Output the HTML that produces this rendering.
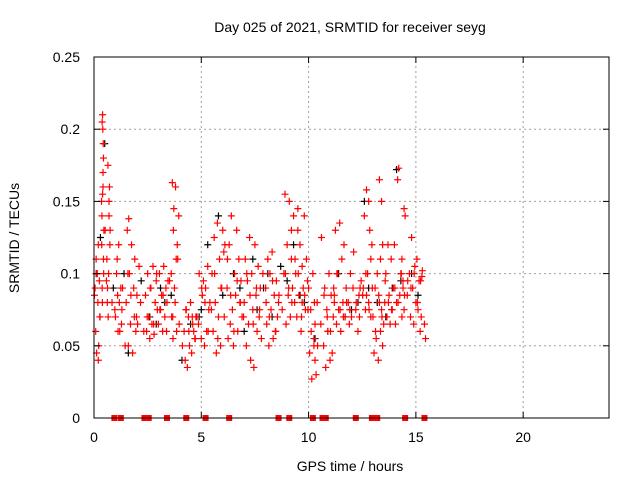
<!DOCTYPE html>
<html><head><meta charset="utf-8"><style>
body{margin:0;background:#fff;font-family:"Liberation Sans",sans-serif;}
svg text{font-family:"Liberation Sans",sans-serif;font-size:14px;fill:#000;}
</style></head><body>
<svg id="chart" width="640" height="480" xmlns="http://www.w3.org/2000/svg">
<text x="350" y="32" text-anchor="middle">Day 025 of 2021, SRMTID for receiver seyg</text>
<text x="350" y="471" text-anchor="middle">GPS time / hours</text>
<text transform="translate(19,238) rotate(-90)" text-anchor="middle">SRMTID / TECUs</text>
<g id="grid"></g>
<g id="marks"></g>
<rect x="94" y="57" width="515" height="361" fill="none" stroke="#000" stroke-width="1"/>
<g id="ticks"></g>
</svg>
<script>
const xTicks=[0,5,10,15,20];
const yTicks=[0,0.05,0.1,0.15,0.2,0.25];
const yTickLabels=["0","0.05","0.1","0.15","0.2","0.25"];
const redTimes=[0.05,0.08,0.1,0.12,0.15,0.18,0.2,0.22,0.25,0.28,0.1,0.2,
0.35,0.38,0.4,0.36,0.42,0.39,0.41,0.44,0.37,0.43,0.45,0.4,0.46,0.38,0.42,0.44,
0.6,0.65,0.62,0.7,0.68,0.72,0.66,0.75,0.63,0.7,0.74,
1.0,1.05,1.1,1.15,1.2,1.25,1.3,1.08,1.18,1.28,
1.5,1.55,1.6,1.65,1.7,1.75,1.8,1.85,1.9,1.95,2.0,1.62,1.98,2.1,
2.4,2.45,2.5,2.55,2.6,2.65,2.7,2.75,2.8,2.85,2.9,2.95,
3.0,3.05,3.1,3.15,3.2,3.25,3.3,3.35,3.4,3.45,
3.6,3.65,3.62,3.7,3.68,3.72,3.75,3.8,3.85,3.9,3.95,3.78,3.88,
4.2,4.25,4.3,4.35,4.4,4.45,4.5,4.55,4.6,4.65,4.7,4.75,
4.8,4.9,5.0,5.05,5.1,5.15,5.2,5.25,5.3,5.35,5.4,
5.5,5.55,5.6,5.65,5.7,5.75,5.8,5.85,5.9,5.95,6.0,6.05,6.1,
6.2,6.25,6.3,6.35,6.4,6.45,6.5,6.55,6.6,6.65,6.7,6.75,6.8,6.85,6.9,
7.0,7.05,7.1,7.15,7.2,7.25,7.3,7.35,7.4,7.45,7.5,7.55,7.6,7.65,7.7,7.75,7.8,
8.0,8.05,8.1,8.15,8.2,8.25,8.3,8.35,8.4,8.45,8.5,8.55,8.6,
8.85,8.9,8.95,9.0,9.05,9.1,9.15,9.2,9.25,9.3,9.35,9.2,
9.4,9.45,9.5,9.55,9.6,9.65,9.7,9.75,9.8,9.85,9.9,9.95,9.5,9.7,
10.0,10.05,10.1,10.15,10.2,10.25,10.3,10.35,10.4,10.3,10.25,10.6,
10.7,10.75,10.8,10.85,10.9,10.95,11.0,11.05,11.1,11.15,11.2,
11.2,11.25,11.3,11.35,11.4,11.45,11.5,11.55,11.6,11.65,11.7,11.75,
11.85,11.9,11.95,12.0,12.1,12.2,12.3,12.4,12.35,12.45,
12.55,12.6,12.65,12.7,12.75,12.8,12.85,12.9,12.95,12.7,12.8,12.9,
13.0,13.05,13.1,13.15,13.2,13.25,13.3,13.35,13.4,13.45,13.5,13.3,13.35,13.4,13.45,
13.55,13.6,13.65,13.7,13.75,13.8,13.85,13.9,13.95,
14.4,14.45,14.35,14.3,14.2,14.1,14.0,14.05,14.15,14.25,14.35,14.45,14.5,14.4,
14.6,14.7,14.75,14.8,14.85,14.9,14.95,15.0,15.05,15.1,15.15,15.2,15.25,15.3,15.28,
15.4,15.45];
const redValues=[0.09,0.06,0.11,0.045,0.1,0.08,0.12,0.05,0.095,0.07,0.1,0.04,
0.15,0.09,0.21,0.12,0.17,0.08,0.2,0.11,0.14,0.19,0.1,0.155,0.13,0.205,0.16,0.18,
0.11,0.175,0.08,0.14,0.1,0.16,0.07,0.13,0.09,0.15,0.12,
0.07,0.1,0.085,0.12,0.06,0.09,0.075,0.11,0.08,0.065,
0.08,0.13,0.05,0.1,0.065,0.12,0.045,0.09,0.11,0.06,0.085,0.138,0.07,0.105,
0.085,0.06,0.1,0.07,0.055,0.09,0.065,0.105,0.058,0.08,0.095,0.075,
0.065,0.1,0.075,0.085,0.06,0.105,0.07,0.09,0.08,0.095,
0.1,0.163,0.07,0.13,0.055,0.145,0.09,0.16,0.06,0.11,0.14,0.08,0.12,
0.06,0.04,0.075,0.035,0.07,0.05,0.08,0.045,0.065,0.06,0.055,0.07,
0.07,0.1,0.055,0.085,0.095,0.05,0.09,0.06,0.105,0.075,0.08,
0.1,0.06,0.125,0.08,0.045,0.135,0.07,0.11,0.05,0.09,0.13,0.115,0.12,
0.09,0.055,0.12,0.065,0.14,0.075,0.05,0.1,0.085,0.13,0.06,0.11,0.08,0.095,0.07,
0.08,0.11,0.05,0.095,0.065,0.125,0.04,0.1,0.075,0.035,0.12,0.085,0.06,0.105,0.07,0.09,0.055,
0.09,0.065,0.11,0.05,0.1,0.075,0.115,0.055,0.085,0.06,0.095,0.07,0.08,
0.1,0.155,0.065,0.12,0.085,0.15,0.07,0.11,0.09,0.14,0.08,0.13,
0.1,0.07,0.145,0.085,0.12,0.06,0.105,0.09,0.14,0.075,0.11,0.095,0.13,0.08,
0.09,0.045,0.075,0.027,0.1,0.05,0.065,0.03,0.08,0.04,0.055,0.125,
0.05,0.09,0.035,0.075,0.06,0.1,0.04,0.085,0.045,0.07,0.08,
0.085,0.13,0.065,0.1,0.075,0.135,0.06,0.11,0.08,0.12,0.07,0.09,
0.08,0.065,0.1,0.07,0.115,0.075,0.06,0.09,0.085,0.095,
0.09,0.14,0.075,0.158,0.1,0.08,0.13,0.07,0.12,0.085,0.15,0.11,
0.07,0.045,0.09,0.055,0.1,0.04,0.08,0.06,0.075,0.05,0.065,0.165,0.11,0.15,0.12,
0.08,0.1,0.07,0.12,0.085,0.065,0.11,0.075,0.09,
0.09,0.145,0.07,0.1,0.173,0.08,0.12,0.065,0.165,0.085,0.11,0.075,0.14,0.095,
0.085,0.1,0.07,0.125,0.09,0.065,0.105,0.08,0.11,0.075,0.095,0.06,0.07,0.102,0.098,
0.065,0.055];
const redTimes2=[0.02,0.14,0.27,0.52,0.58,0.84,0.97,1.12,1.33,1.45,1.58,1.72,1.88,2.03,2.17,2.32,2.48,2.62,2.78,2.92,3.07,3.22,3.38,3.52,3.67,3.83,3.97,4.12,4.28,4.42,4.58,4.72,4.87,5.02,5.17,5.32,5.47,5.62,5.77,5.92,6.07,6.22,6.37,6.52,6.67,6.82,6.97,7.12,7.27,7.42,7.57,7.72,7.87,8.02,8.17,8.32,8.47,8.62,8.77,8.92,9.07,9.22,9.37,9.52,9.67,9.82,9.97,10.12,10.27,10.42,10.57,10.72,10.87,11.02,11.17,11.32,11.47,11.62,11.77,11.92,12.07,12.22,12.37,12.52,12.67,12.82,12.97,13.12,13.27,13.42,13.57,13.72,13.87,14.02,14.17,14.32,14.47,14.62,14.77,14.92,15.07,15.22];
const redValues2=[0.085,0.1,0.07,0.13,0.095,0.08,0.075,0.06,0.09,0.05,0.1,0.085,0.07,0.065,0.08,0.06,0.07,0.09,0.065,0.1,0.075,0.085,0.06,0.095,0.07,0.11,0.065,0.05,0.075,0.06,0.07,0.055,0.065,0.09,0.08,0.06,0.075,0.1,0.055,0.09,0.07,0.11,0.085,0.06,0.095,0.08,0.07,0.1,0.085,0.065,0.09,0.075,0.1,0.08,0.07,0.095,0.06,0.085,0.075,0.1,0.09,0.08,0.11,0.1,0.07,0.085,0.075,0.06,0.08,0.05,0.065,0.085,0.07,0.06,0.09,0.1,0.075,0.07,0.08,0.075,0.09,0.08,0.07,0.085,0.1,0.075,0.09,0.06,0.085,0.07,0.095,0.08,0.075,0.09,0.08,0.1,0.085,0.095,0.09,0.1,0.08,0.095];
const blackTimes=[0.1,0.3,0.5,0.9,1.4,1.6,2.2,2.6,3.1,3.6,4.1,4.5,5.0,5.3,5.8,6.0,6.5,7.0,7.4,7.9,8.3,8.7,9.0,9.3,9.8,10.3,10.9,11.4,12.0,12.6,12.8,13.2,13.6,14.1,14.3,14.8,15.1,2.9,3.3,4.9,6.8,7.6,8.1,9.6,11.7,12.3,13.9];
const blackValues=[0.1,0.125,0.19,0.09,0.1,0.045,0.095,0.07,0.09,0.085,0.04,0.065,0.075,0.12,0.14,0.085,0.1,0.06,0.11,0.09,0.07,0.105,0.095,0.12,0.08,0.055,0.06,0.1,0.075,0.15,0.09,0.08,0.07,0.172,0.095,0.1,0.085,0.065,0.08,0.07,0.09,0.075,0.1,0.085,0.07,0.08,0.09];
const zeroTimes=[0.95,1.25,2.35,2.45,2.55,3.4,4.3,5.2,6.3,8.6,9.1,10.2,10.65,10.8,12.2,12.95,13.1,13.2,14.5,15.4];

const X0=94,X1=609,Y0=418,Y1=57;
const sx=t=>X0+(t/24)*(X1-X0);
const sy=v=>Y0-(v/0.25)*(Y0-Y1);
const NS="http://www.w3.org/2000/svg";
const grid=document.getElementById('grid'),ticks=document.getElementById('ticks'),marks=document.getElementById('marks');
function mk(tag,attrs,parent){const e=document.createElementNS(NS,tag);for(const k in attrs)e.setAttribute(k,attrs[k]);parent.appendChild(e);return e;}
xTicks.forEach(t=>{
  const x=sx(t);
  if(t>0){const g=mk('line',{x1:x,x2:x,y1:Y0,y2:Y1,stroke:'#a0a0a0','stroke-dasharray':'2,3'},grid);
  
  }
  const tk=mk('line',{x1:x,x2:x,y1:Y0,y2:Y0-6,stroke:'#000'},ticks);
  
  
  const tk2=mk('line',{x1:x,x2:x,y1:Y1,y2:Y1+6,stroke:'#000'},ticks);
  
  
  const l=mk('text',{x:x,y:Y0+24,'text-anchor':'middle'},ticks);l.textContent=t;
  
  
});
yTicks.forEach((v,i)=>{
  const y=sy(v);
  if(v>0&&v<0.25){const g=mk('line',{x1:X0,x2:X1,y1:y,y2:y,stroke:'#a0a0a0','stroke-dasharray':'2,3'},grid);
  
  }
  const tk=mk('line',{x1:X0,x2:X0+6,y1:y,y2:y,stroke:'#000'},ticks);
  
  
  const tk2=mk('line',{x1:X1,x2:X1-6,y1:y,y2:y,stroke:'#000'},ticks);
  
  
  const l=mk('text',{x:X0-14,y:y+5,'text-anchor':'end'},ticks);l.textContent=yTickLabels[i];
  
  
});
function cross(t,v,color,name){
  const x=sx(t),y=sy(v);
  const p=mk('path',{d:`M${x-3.5},${y}H${x+3.5}M${x},${y-3.5}V${y+3.5}`,stroke:color,'stroke-width':1.2,fill:'none'},marks);
  
  
}
blackTimes.forEach((t,i)=>cross(t,blackValues[i],'#000','black-point'));
const n2=Math.min(redTimes2.length,redValues2.length);
for(let i=0;i<n2;i++)cross(redTimes2[i],redValues2[i],'#ff0000','red-point');
redTimes.forEach((t,i)=>cross(t,redValues[i],'#ff0000','red-point'));
zeroTimes.forEach(t=>{
  const x=sx(t);
  const r=mk('rect',{x:x-3,y:Y0-3,width:6,height:6,fill:'#ff0000'},marks);
  
  
});
</script>
</body></html>
